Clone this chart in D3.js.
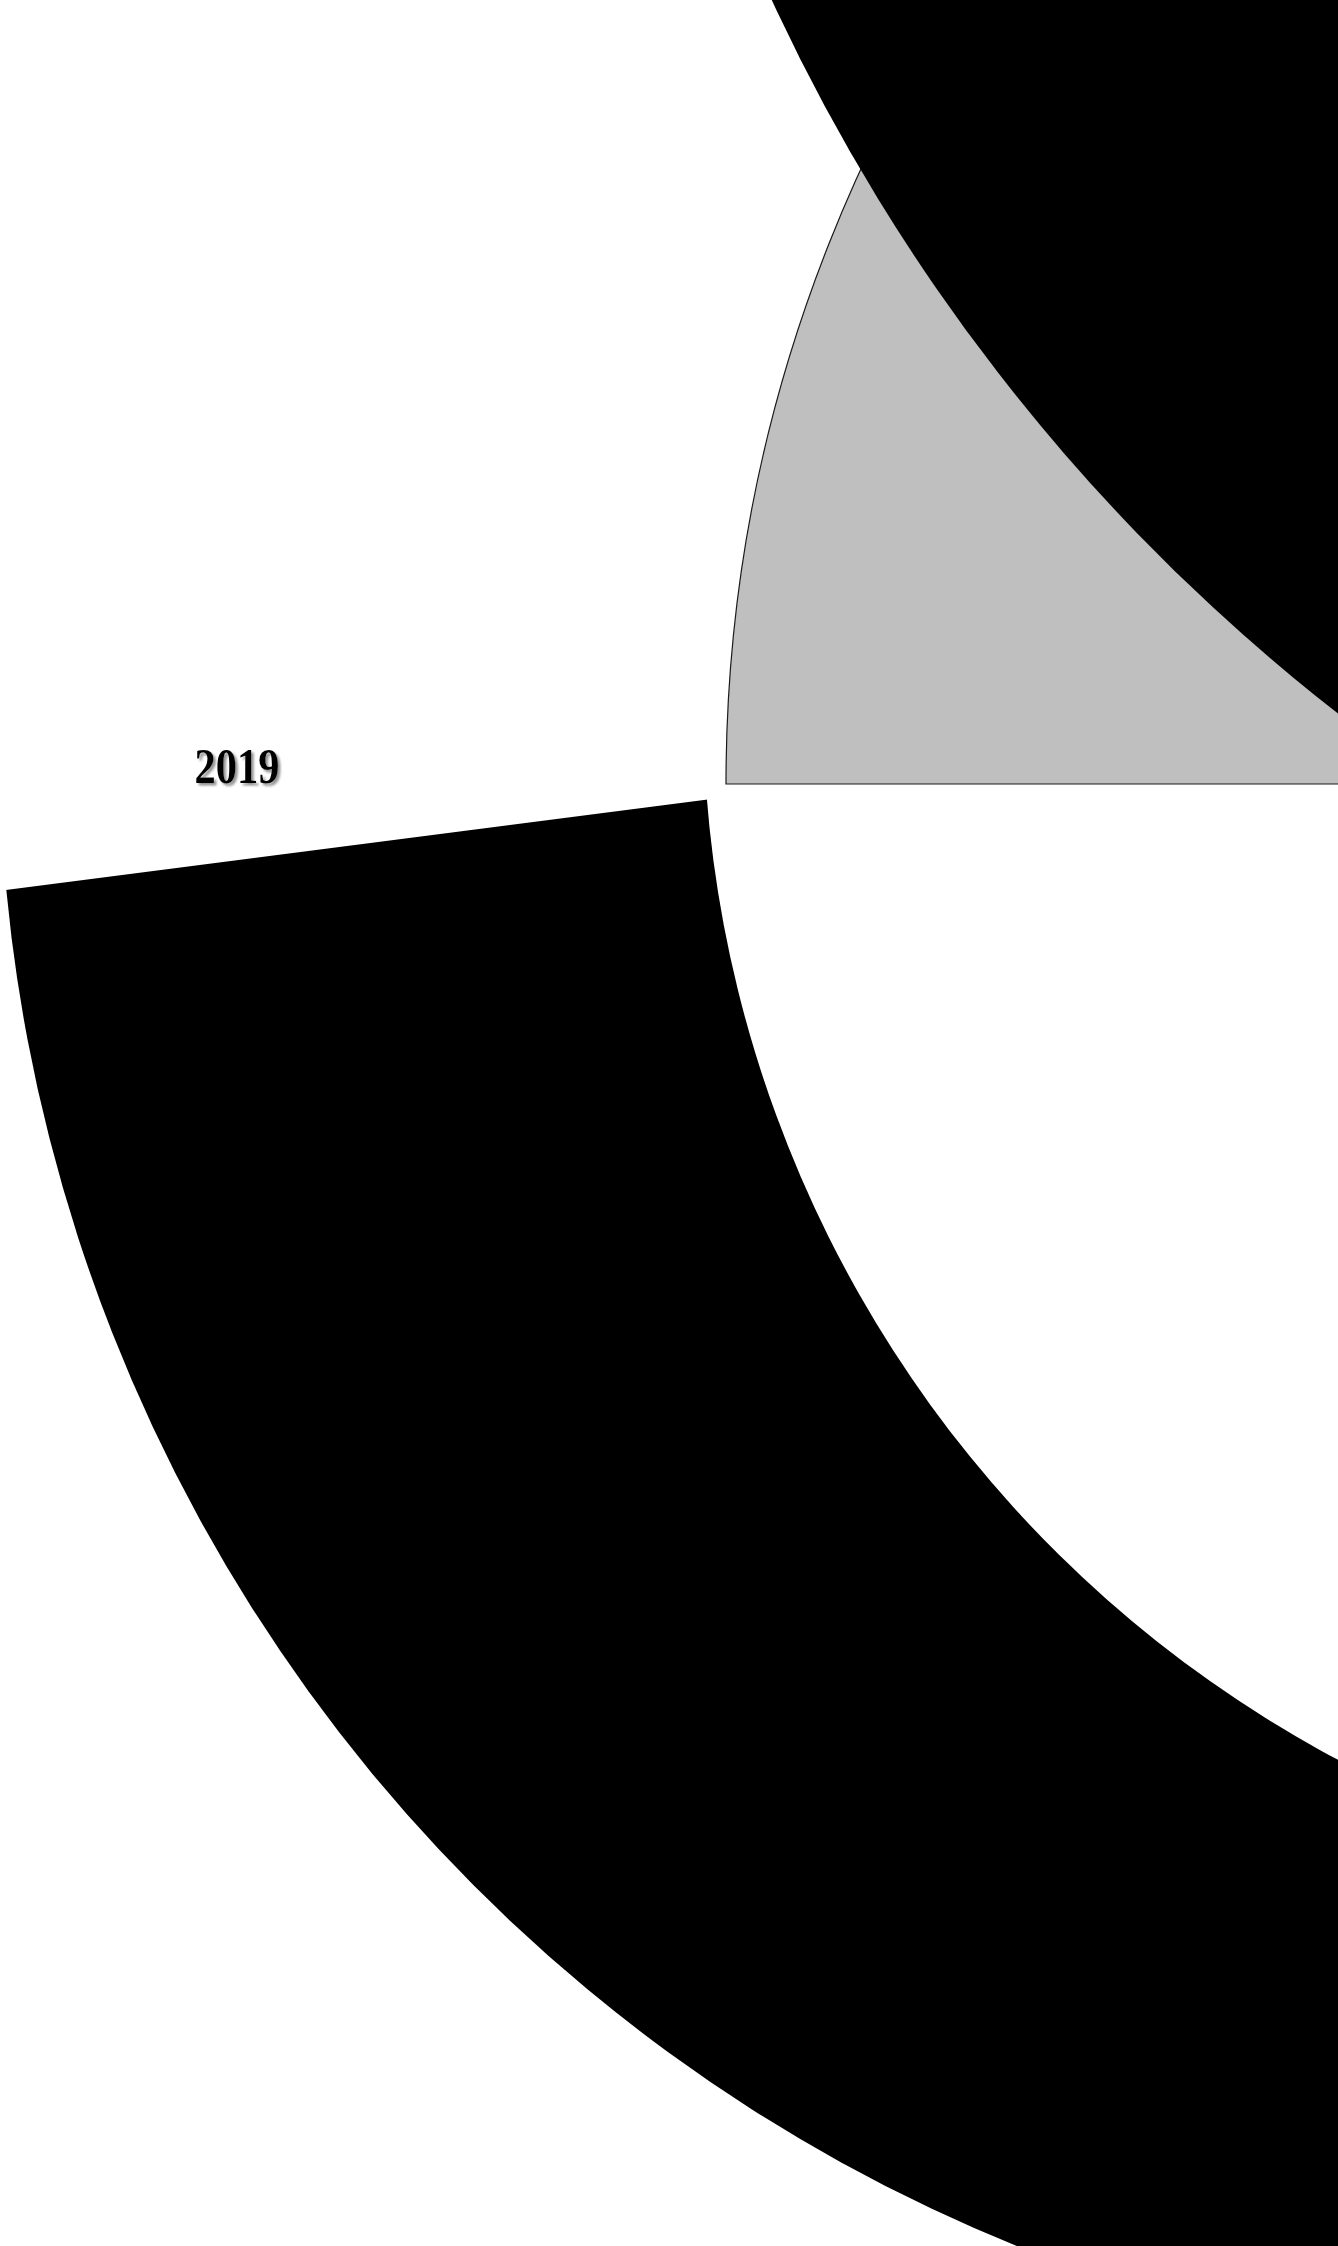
<!DOCTYPE html>
<html>
<head>
<meta charset="utf-8">
<script src="https://cdn.jsdelivr.net/npm/d3@7"></script>
<style>
	html, body { margin: 0; padding: 0; background: #ffffff; }
	svg { display: block; }
</style>
</head>
<body>
<div class="chartWrapper"></div>
<script>
const width = 1338;
const height = 2246;

// data: one pie ("2019"), shares in percent of a full turn
const seriesLabel = "2019";
const sliceNames = ["Slice 1", "Slice 2", "Slice 3", "Slice 4", "Slice 5"];
const sliceShares = [32, 10.4, 28, 12, 28];

// styles
const sliceColors = ["#000000", "#ffffff", "#ffffff", "#bfbfbf", "#000000"];
const sliceStrokes = ["none", "none", "none", "#1a1a1a", "none"];

// the chart is shown heavily zoomed, so each (exploded) wedge has its own
// centre, radius and start angle (degrees, clockwise from 12 o'clock)
const wedgeLayout = [
	{cx: 1628, cy: 736, r: 1629, start: 151.3},
	{cx: 900, cy: 774.8, r: 960, start: 262.66},
	{cx: 1900, cy: 703, r: 1197, start: 190},
	{cx: 2195, cy: 784, r: 1469, start: 270},
	{cx: 2524, cy: -809, r: 1930, start: 185}
];

let angle = d3.scaleLinear()
	.domain([0, 100])
	.range([0, 2 * Math.PI]);
let toRad = d3.scaleLinear()
	.domain([0, 360])
	.range([0, 2 * Math.PI]);

let svg = d3.select(".chartWrapper")
	.append("svg")
	.attr("width", width)
	.attr("height", height)
	.attr("viewBox", "0 0 " + width + " " + height);

let defs = svg.append("defs");
defs.append("filter")
	.attr("id", "labelShadow")
	.attr("x", "-20%").attr("y", "-20%")
	.attr("width", "140%").attr("height", "140%")
	.append("feDropShadow")
	.attr("dx", 2.5)
	.attr("dy", 2.5)
	.attr("stdDeviation", 1)
	.attr("flood-color", "#808080")
	.attr("flood-opacity", 0.85);

let slices = sliceNames.map((name, i) => {
	let a0 = toRad(wedgeLayout[i].start);
	return {
		name: name,
		value: sliceShares[i],
		startAngle: a0,
		endAngle: a0 + angle(sliceShares[i]),
		layout: wedgeLayout[i],
		fill: sliceColors[i],
		stroke: sliceStrokes[i]
	};
});

let arc = d3.arc()
	.innerRadius(0)
	.outerRadius(d => d.layout.r);

svg.append("g")
	.attr("class", "slices")
	.selectAll(".slice")
	.data(slices)
	.enter()
	.append("path")
	.attr("class", "slice")
	.attr("transform", d => "translate(" + d.layout.cx + "," + d.layout.cy + ")")
	.attr("d", arc)
	.attr("fill", d => d.fill)
	.attr("stroke", d => d.stroke)
	.attr("stroke-width", 1.2);

// series label with a drop shadow
svg.append("text")
	.attr("class", "label")
	.attr("x", 237)
	.attr("y", 783)
	.attr("text-anchor", "middle")
	.attr("font-family", "'Liberation Serif', 'Times New Roman', serif")
	.attr("font-weight", "bold")
	.attr("font-size", 50)
	.attr("textLength", 85)
	.attr("lengthAdjust", "spacingAndGlyphs")
	.attr("fill", "#000000")
	.attr("filter", "url(#labelShadow)")
	.text(seriesLabel);
</script>
</body>
</html>
